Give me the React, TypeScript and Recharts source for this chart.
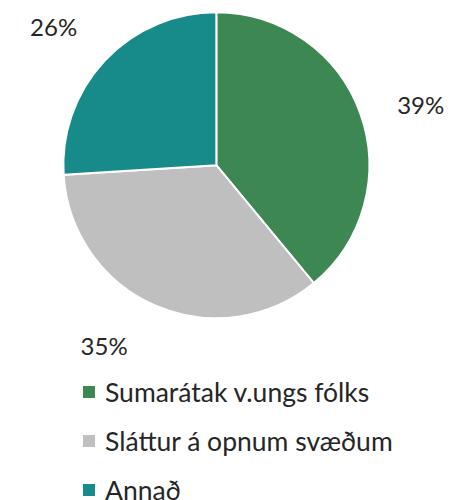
import React from "react";
import { PieChart, Pie, Cell } from "recharts";

const categories = ["Sumarátak v.ungs fólks", "Sláttur á opnum svæðum", "Annað"];
const values = [39, 35, 26];
const colors = ["#3D8753", "#BFBFBF", "#178A8A"];

const data = categories.map((name, i) => ({ name, value: values[i] }));

// small angular nudges (degrees) for the outside labels, best-fit style
const labelAngleShift = [-3.4, -8.4, 3];

const FONT = "Lato, 'Open Sans', sans-serif";
const RAD = Math.PI / 180;

function renderLabel(props: any) {
  const cx = Number(props.cx);
  const cy = Number(props.cy);
  const idx = Number(props.index) || 0;
  const midAngle = Number(props.midAngle) + (labelAngleShift[idx] || 0);
  const outerRadius = Number(props.outerRadius);
  const r = outerRadius + 60;
  const x = cx + r * Math.cos(-midAngle * RAD);
  const y = cy + r * Math.sin(-midAngle * RAD);
  return (
    <text
      x={x}
      y={y + 8.5}
      fill="#262626"
      fontSize={24}
      fontFamily={FONT}
      textAnchor="middle"
    >
      {props.value}%
    </text>
  );
}

function renderLegend() {
  return (
    <div style={{ fontFamily: FONT }}>
      {data.map((entry, i) => (
        <div
          key={i}
          style={{
            display: "flex",
            alignItems: "center",
            height: 49,
            fontSize: 26.5,
            color: "#262626",
            whiteSpace: "nowrap",
          }}
        >
          <span
            style={{
              display: "inline-block",
              width: 12,
              height: 12,
              background: colors[i],
              marginLeft: 83,
              marginRight: 10,
              flex: "none",
            }}
          />
          <span>{entry.name}</span>
        </div>
      ))}
    </div>
  );
}

export default function App() {
  return (
    <div style={{ position: "absolute", left: 0, top: 0, width: 454, height: 500, overflow: "hidden", background: "#fff" }}>
      <PieChart width={454} height={500}>
        <Pie
          data={data}
          dataKey="value"
          nameKey="name"
          cx="47.6%"
          cy="32.7%"
          outerRadius={153}
          startAngle={90}
          endAngle={-270}
          stroke="#ffffff"
          strokeWidth={2}
          label={renderLabel}
          labelLine={false}
          isAnimationActive={false}
        >
          {data.map((d, i) => (
            <Cell key={d.name} fill={colors[i]} />
          ))}
        </Pie>
      </PieChart>
      <div style={{ position: "absolute", left: 0, top: 367, width: 454 }}>
        {renderLegend()}
      </div>
    </div>
  );
}
